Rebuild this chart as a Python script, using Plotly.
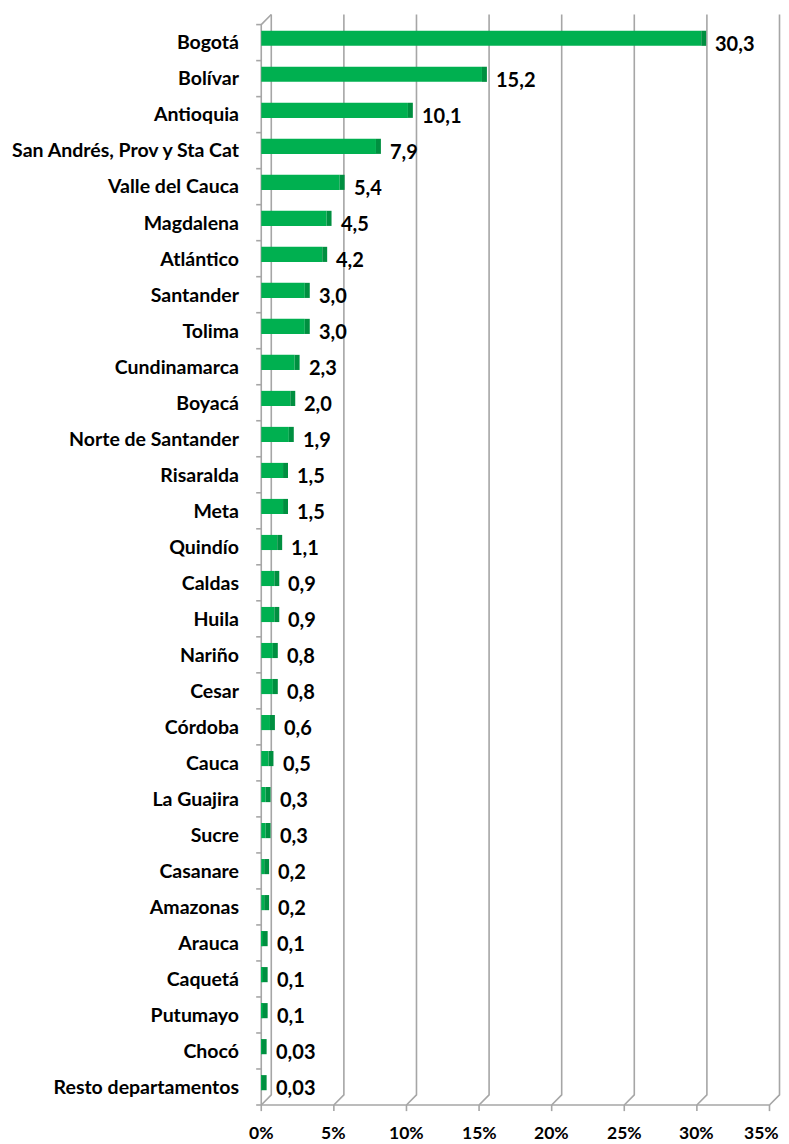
import plotly.graph_objects as go

categories = ["Bogotá", "Bolívar", "Antioquia", "San Andrés, Prov y Sta Cat", "Valle del Cauca",
              "Magdalena", "Atlántico", "Santander", "Tolima", "Cundinamarca", "Boyacá",
              "Norte de Santander", "Risaralda", "Meta", "Quindío", "Caldas", "Huila", "Nariño",
              "Cesar", "Córdoba", "Cauca", "La Guajira", "Sucre", "Casanare", "Amazonas",
              "Arauca", "Caquetá", "Putumayo", "Chocó", "Resto departamentos"]
values = [30.3, 15.2, 10.1, 7.9, 5.4, 4.5, 4.2, 3.0, 3.0, 2.3, 2.0, 1.9, 1.5, 1.5, 1.1,
          0.9, 0.9, 0.8, 0.8, 0.6, 0.5, 0.3, 0.3, 0.2, 0.2, 0.1, 0.1, 0.1, 0.03, 0.03]
value_labels = ["30,3", "15,2", "10,1", "7,9", "5,4", "4,5", "4,2", "3,0", "3,0", "2,3", "2,0",
                "1,9", "1,5", "1,5", "1,1", "0,9", "0,9", "0,8", "0,8", "0,6", "0,5", "0,3",
                "0,3", "0,2", "0,2", "0,1", "0,1", "0,1", "0,03", "0,03"]
x_ticks = [0, 5, 10, 15, 20, 25, 30, 35]
x_tick_labels = ["0%", "5%", "10%", "15%", "20%", "25%", "30%", "35%"]

FONT = "Lato"
GRID = "#a6a6a6"
GREEN = "#00b050"
DARK = "#008f40"
DX = 0.69   # depth offset in x (data units)
DY = 0.28   # depth offset in y (category units)
CAP = 0.34
TICKFONT = dict(family=FONT, size=17.5, color="black", weight=700)

n = len(categories)
ypos = list(range(n))
top = -0.5
bottom = n - 0.5

fig = go.Figure()
fig.add_trace(go.Bar(
    x=values, y=ypos, orientation="h", width=0.42, offset=-0.33,
    marker=dict(color=GREEN, line=dict(width=0)), hoverinfo="skip", showlegend=False))
fig.add_trace(go.Bar(
    x=[CAP] * n, base=values, y=ypos, orientation="h", width=0.42, offset=-0.33,
    marker=dict(color=DARK, line=dict(width=0)), hoverinfo="skip", showlegend=False))

shapes = []
line = dict(color=GRID, width=1.6)
# left wall front edge + top diagonal
shapes.append(dict(type="path", xref="x", yref="y", layer="below",
                   path=f"M 0 {bottom} L 0 {top} L {DX} {top - DY}", line=line))
# back gridlines with floor diagonals
for v in x_ticks:
    shapes.append(dict(type="path", xref="x", yref="y", layer="below",
                       path=f"M {v + DX} {top - DY} L {v + DX} {bottom - DY} L {v} {bottom}",
                       line=line))
    shapes.append(dict(type="line", xref="x", yref="y", layer="below",
                       x0=v, x1=v, y0=bottom, y1=bottom + 0.17, line=line))
# front floor line
shapes.append(dict(type="line", xref="x", yref="y", layer="below",
                   x0=0, x1=x_ticks[-1], y0=bottom, y1=bottom, line=line))
# category ticks on the left wall
for i in range(n + 1):
    b = i - 0.5
    shapes.append(dict(type="line", xref="x", yref="y", layer="below",
                       x0=-0.35, x1=0, y0=b, y1=b, line=line))

annotations = []
for i, (v, t) in enumerate(zip(values, value_labels)):
    annotations.append(dict(x=v, y=i, xref="x", yref="y", text=t, showarrow=False,
                            xanchor="left", yanchor="middle", xshift=12,
                            font=dict(family=FONT, size=20, color="black", weight=700)))

# x tick labels (the last one is right-anchored so it stays inside the window)
for k, (v, t) in enumerate(zip(x_ticks, x_tick_labels)):
    last = k == len(x_ticks) - 1
    annotations.append(dict(x=v, y=0, xref="x", yref="paper", text=t, showarrow=False,
                            xanchor="right" if last else "center", yanchor="top",
                            xshift=12 if last else 0, yshift=-6, font=TICKFONT))

fig.update_layout(
    width=781, height=1136,
    margin=dict(l=246, r=5, t=4, b=30, autoexpand=False),
    paper_bgcolor="white", plot_bgcolor="white",
    barmode="overlay",
    shapes=shapes, annotations=annotations,
    xaxis=dict(range=[-0.5, 36], showticklabels=False,
               showgrid=False, zeroline=False, showline=False, ticks="",
               automargin=False),
    yaxis=dict(range=[29.75, -0.85], tickvals=ypos, ticktext=categories,
               showgrid=False, zeroline=False, showline=False, ticks="",
               automargin=False, ticklabelstandoff=14,
               tickfont=dict(family=FONT, size=19.5, color="black", weight=700)),
)

fig.write_html("out.html")
